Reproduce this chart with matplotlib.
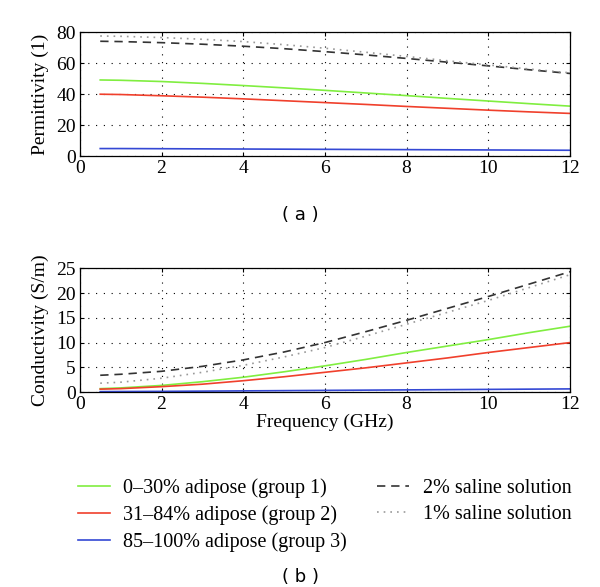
import numpy as np
import matplotlib
matplotlib.use('Agg')
import matplotlib.pyplot as plt

plt.rcParams['font.family'] = ['Liberation Serif', 'DejaVu Serif']

# frequency samples (GHz)
freq = [0.5, 1, 2, 3, 4, 5, 6, 7, 8, 9, 10, 11, 12]

# permittivity (1)
eps_g1 = [49.2, 49.0, 48.2, 47.0, 45.6, 44.1, 42.5, 40.8, 39.1, 37.3, 35.6, 33.9, 32.3]
eps_g2 = [40.0, 39.8, 39.0, 38.1, 37.0, 35.8, 34.6, 33.4, 32.1, 30.9, 29.7, 28.6, 27.6]
eps_g3 = [4.9, 4.9, 4.8, 4.7, 4.6, 4.5, 4.4, 4.3, 4.2, 4.1, 4.0, 3.9, 3.8]
eps_s2 = [74.2, 74.0, 73.3, 72.3, 71.0, 69.4, 67.5, 65.4, 63.1, 60.7, 58.3, 55.8, 53.4]
eps_s1 = [77.6, 77.4, 76.6, 75.5, 74.0, 72.0, 69.7, 67.1, 64.4, 61.6, 58.9, 56.3, 53.8]

# conductivity (S/m)
sig_g1 = [0.7, 0.85, 1.35, 2.1, 3.0, 4.1, 5.3, 6.6, 8.0, 9.3, 10.6, 12.0, 13.3]
sig_g2 = [0.6, 0.7, 1.1, 1.6, 2.3, 3.1, 4.0, 4.9, 5.9, 6.9, 8.0, 9.0, 10.0]
sig_g3 = [0.1, 0.12, 0.15, 0.2, 0.25, 0.3, 0.35, 0.4, 0.45, 0.5, 0.55, 0.6, 0.65]
sig_s2 = [3.4, 3.6, 4.2, 5.2, 6.5, 8.1, 10.0, 12.2, 14.5, 16.9, 19.3, 21.8, 24.3]
sig_s1 = [1.8, 2.0, 2.8, 4.0, 5.4, 7.1, 9.0, 11.3, 13.7, 16.1, 18.5, 21.1, 23.7]

labels = ['0\u201330% adipose (group 1)', '31\u201384% adipose (group 2)',
          '85\u2013100% adipose (group 3)', '2% saline solution', '1% saline solution']
colors = ['#80ee40', '#f0402c', '#3448d4', '#333333', '#999999']
styles = ['-', '-', '-', (0, (5, 3.5)), (0, (1, 3))]

fig = plt.figure(figsize=(6.0, 5.87), dpi=100)
ax1 = fig.add_axes([0.133, 0.734, 0.817, 0.211])
ax2 = fig.add_axes([0.133, 0.332, 0.817, 0.211])

handles = []
for ax, series in ((ax1, [eps_g1, eps_g2, eps_g3, eps_s2, eps_s1]),
                   (ax2, [sig_g1, sig_g2, sig_g3, sig_s2, sig_s1])):
    for y, c, ls, lab in zip(series, colors, styles, labels):
        ln, = ax.plot(freq, y, color=c, linestyle=ls, lw=1.2, label=lab)
        if ax is ax1:
            handles.append(ln)
    ax.set_xlim(0, 12)
    ax.set_xticks(range(0, 13, 2))
    ax.grid(True, color='black', linestyle=(0, (1, 6)), lw=0.8)
    ax.tick_params(direction='in', labelsize=14, length=3, top=True, right=True, pad=3)
    for s in ax.spines.values():
        s.set_linewidth(0.9)

ax1.set_ylim(0, 80)
ax1.set_yticks(range(0, 81, 20))
ax1.set_ylabel('Permittivity (1)', fontsize=14, labelpad=5)

ax2.set_ylim(0, 25)
ax2.set_yticks(range(0, 26, 5))
ax2.set_ylabel('Conductivity (S/m)', fontsize=14, labelpad=5)
ax2.set_xlabel('Frequency (GHz)', fontsize=14, labelpad=0)

fig.legend(handles=handles, ncol=2, loc='upper left', bbox_to_anchor=(0.13, 1 - 478 / 587),
           frameon=False, fontsize=14.5, handlelength=1.6, columnspacing=1.5,
           labelspacing=0.36, handletextpad=0.65, borderpad=0, borderaxespad=0)

fig.text(0.5, 0.634, '( a )', ha='center', va='center', fontsize=13, family='DejaVu Sans')
fig.text(0.5, 0.017, '( b )', ha='center', va='center', fontsize=13, family='DejaVu Sans')

fig.savefig('out.png', dpi=100)
